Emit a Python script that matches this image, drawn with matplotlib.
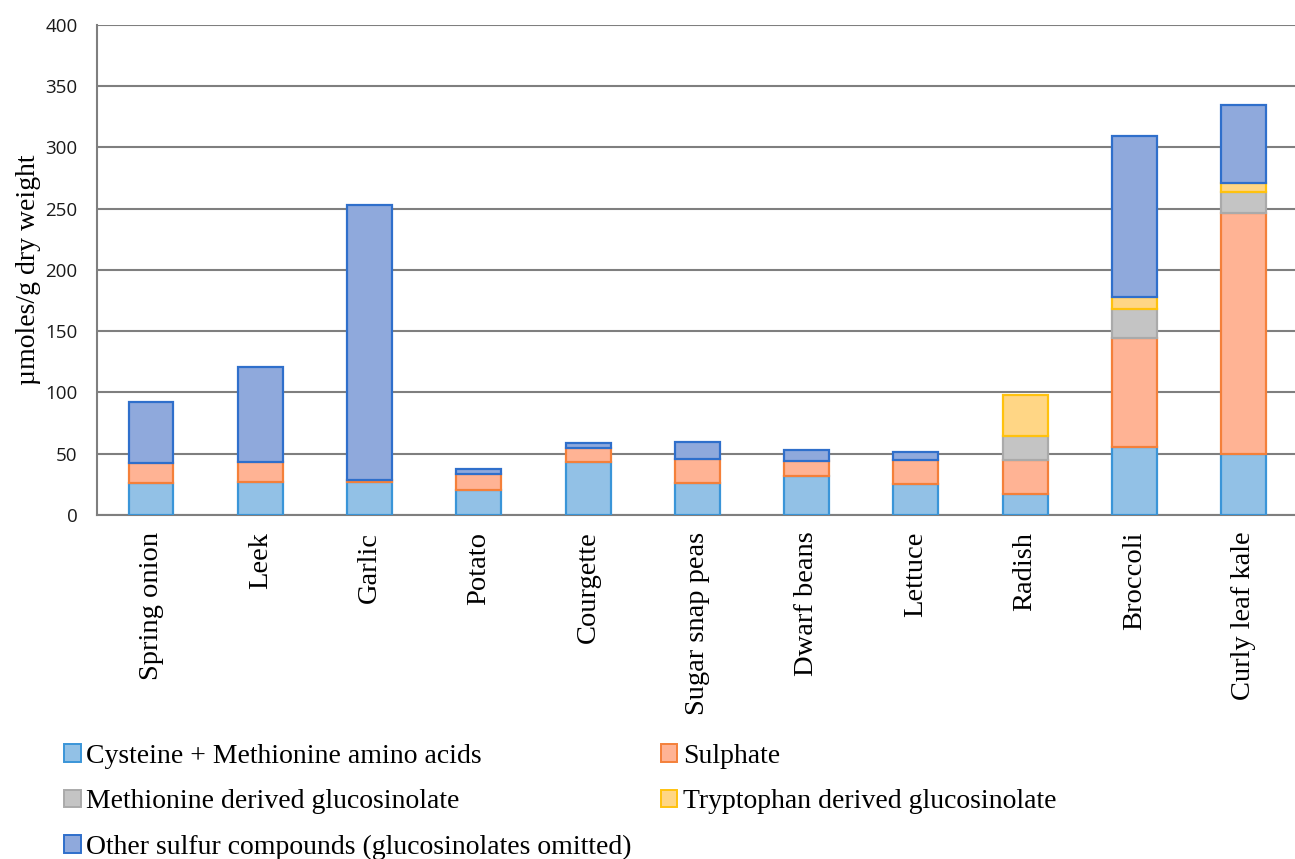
import matplotlib
matplotlib.use("Agg")
import matplotlib.pyplot as plt
from matplotlib.patches import Patch
import numpy as np

categories = ["Spring onion", "Leek", "Garlic", "Potato", "Courgette", "Sugar snap peas",
              "Dwarf beans", "Lettuce", "Radish", "Broccoli", "Curly leaf kale"]
cys_met = [26.4, 27.0, 27.2, 20.4, 43.3, 26.4, 31.8, 25.6, 17.4, 55.8, 49.8]
sulphate = [16.3, 16.5, 1.4, 13.1, 11.1, 19.6, 12.0, 19.0, 27.5, 88.4, 196.5]
met_gsl = [0, 0, 0, 0, 0, 0, 0, 0, 19.3, 23.7, 17.6]
trp_gsl = [0, 0, 0, 0, 0, 0, 0, 0, 33.5, 10.3, 6.9]
other = [49.3, 77.5, 224.4, 4.3, 4.6, 13.3, 9.5, 6.8, 0, 131.5, 63.6]

series_labels = ["Cysteine + Methionine amino acids", "Sulphate", "Methionine derived glucosinolate",
                 "Tryptophan derived glucosinolate", "Other sulfur compounds (glucosinolates omitted)"]
yticks = [0, 50, 100, 150, 200, 250, 300, 350, 400]

fills = ["#92C1E6", "#FFB394", "#C4C4C4", "#FFD685", "#8FA9DC"]
edges = ["#3A95D8", "#F4803A", "#AAAAAA", "#FFC20E", "#2F6FCB"]

serif = ["Liberation Serif", "DejaVu Serif"]

fig = plt.figure(figsize=(12.95, 8.59), dpi=100)
ax = fig.add_axes([0.075, 0.4005, 0.925, 0.5705])

x = np.arange(len(categories))
data = [cys_met, sulphate, met_gsl, trp_gsl, other]
bottom = np.zeros(len(categories))
for vals, fc, ec in zip(data, fills, edges):
    v = np.array(vals, dtype=float)
    mask = v > 0
    ax.bar(x[mask], v[mask], bottom=bottom[mask], width=0.41, color=fc, edgecolor=ec,
           linewidth=1.6, zorder=3)
    bottom += v

ax.set_ylim(0, 400)
ax.set_xlim(-0.494, 10.47)
ax.set_yticks(yticks)
ax.set_yticklabels([str(t) for t in yticks], fontfamily=["Open Sans", "DejaVu Sans"], fontsize=13.5,
                   color="#1a1a1a")
ax.yaxis.grid(True, color="#7F7F7F", linewidth=1.5, zorder=0)
ax.set_axisbelow(True)
ax.tick_params(axis="y", length=0, pad=14)
ax.tick_params(axis="x", length=0, pad=12)
ax.set_xticks(x)
ax.set_xticklabels(categories, rotation=90, fontfamily=serif, fontsize=20.5)
ax.set_ylabel("µmoles/g dry weight", fontfamily=serif, fontsize=20, labelpad=3)

for s in ["top", "right"]:
    ax.spines[s].set_visible(False)
ax.spines["left"].set_color("#7F7F7F")
ax.spines["left"].set_linewidth(1.5)
ax.spines["bottom"].set_color("#7F7F7F")
ax.spines["bottom"].set_linewidth(1.5)

order = [0, 2, 4, 1, 3]
handles = [Patch(facecolor=fills[i], edgecolor=edges[i], linewidth=1.4, label=series_labels[i]) for i in order]
fig.legend(handles=handles, loc="upper left", bbox_to_anchor=(0.041, 0.147),
           ncol=2, frameon=False, prop={"family": serif, "size": 20},
           handlelength=0.6, handleheight=0.6, handletextpad=0.2,
           columnspacing=1.03, labelspacing=0.74, borderaxespad=0)

fig.savefig("out.png", dpi=100)
